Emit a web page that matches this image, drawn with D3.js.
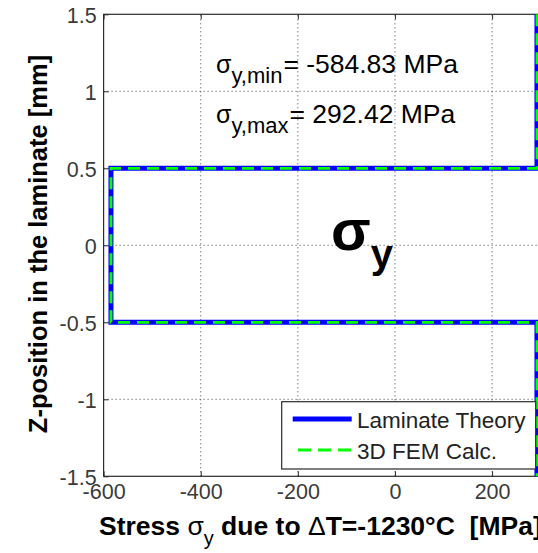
<!DOCTYPE html>
<html>
<head>
<meta charset="utf-8">
<script src="https://cdn.jsdelivr.net/npm/d3@7"></script>
<style>
  body { margin: 0; background: #fff; }
  svg { font-family: "Liberation Sans", Arial, sans-serif; display: block; }
</style>
</head>
<body>
<svg></svg>
<script>
const width = 538, height = 553;
const margin = {top: 14.3, left: 103.6};

// data: stress sigma_y through the laminate thickness
const sigmaMin = -584.83;
const sigmaMax = 292.42;
const zLaminate = [1.5, 0.5, 0.5, -0.5, -0.5, -1.5];
const sLaminate = [sigmaMax, sigmaMax, sigmaMin, sigmaMin, sigmaMax, sigmaMax];
const zFem = [1.5, 0.5, 0.5, -0.5, -0.5, -1.5];
const sFem = [sigmaMax, sigmaMax, sigmaMin, sigmaMin, sigmaMax, sigmaMax];
const xTicks = [-600, -400, -200, 0, 200];
const yTicks = [-1.5, -1, -0.5, 0, 0.5, 1, 1.5];

let svg = d3.select("svg").attr("width", width).attr("height", height);

let x = d3.scaleLinear().domain([-600, 300]).range([margin.left, margin.left + 900 * 0.4856]);
let y = d3.scaleLinear().domain([-1.5, 1.5]).range([476.3, margin.top]);

const x0 = x.range()[0], x1 = x.range()[1];
const y0 = y.range()[0], y1 = y.range()[1];
const fmt = d => String(d);  // plain hyphen minus like matlab

// grid
let grid = svg.append("g").attr("stroke", "#444").attr("stroke-width", 1).attr("stroke-dasharray", "1,3");
xTicks.filter(t => t > -600).forEach(t => {
  grid.append("line").attr("x1", x(t)).attr("x2", x(t)).attr("y1", y0).attr("y2", y1);
});
yTicks.filter(t => Math.abs(t) < 1.5).forEach(t => {
  grid.append("line").attr("x1", x0).attr("x2", x1).attr("y1", y(t)).attr("y2", y(t));
});

// axes box
svg.append("rect").attr("x", x0).attr("y", y1).attr("width", x1 - x0).attr("height", y0 - y1)
  .attr("fill", "none").attr("stroke", "#2b2b2b").attr("stroke-width", 1.2);

let xAxis = svg.append("g").attr("transform", `translate(0,${y0})`)
  .call(d3.axisBottom(x).tickValues(xTicks).tickSize(-5).tickPadding(12).tickFormat(fmt));
let xAxisTop = svg.append("g").attr("transform", `translate(0,${y1})`)
  .call(d3.axisTop(x).tickValues(xTicks).tickSize(-5).tickFormat(""));
let yAxis = svg.append("g").attr("transform", `translate(${x0},0)`)
  .call(d3.axisLeft(y).tickValues(yTicks).tickSize(-5).tickPadding(7).tickFormat(fmt));
[xAxis, xAxisTop, yAxis].forEach(a => {
  a.select(".domain").remove();
  a.selectAll("line").attr("stroke", "#2b2b2b");
  a.selectAll("text").attr("fill", "#3a3a3a").attr("font-size", 21.5).attr("font-family", "Liberation Sans, Arial");
});
xAxis.selectAll("text").attr("dy", "0.5em");
yAxis.selectAll("text").attr("dy", "0.36em");

// lines
let line = d3.line().x(d => x(d[0])).y(d => y(d[1]));
svg.append("path")
  .datum(sLaminate.map((s, i) => [s, zLaminate[i]]))
  .attr("d", line).attr("fill", "none").attr("stroke", "#0000ff").attr("stroke-width", 5);
svg.append("path")
  .datum(sFem.map((s, i) => [s, zFem[i]]))
  .attr("d", line).attr("fill", "none").attr("stroke", "#00ff00").attr("stroke-width", 2.8)
  .attr("stroke-dasharray", "12,7");

// annotations
let ann = svg.append("g").attr("fill", "#000").attr("font-size", 26.5);
let t1 = ann.append("text").attr("x", 216).attr("y", 73);
t1.append("tspan").attr("font-size", 25).text("σ");
t1.append("tspan").attr("font-size", 22).attr("dy", 10).text("y,min");
t1.append("tspan").attr("dy", -10).attr("dx", 1).text("= -584.83 MPa");
let t2 = ann.append("text").attr("x", 216).attr("y", 123);
t2.append("tspan").attr("font-size", 25).text("σ");
t2.append("tspan").attr("font-size", 22).attr("dy", 10).text("y,max");
t2.append("tspan").attr("dy", -10).attr("dx", 1).text("= 292.42 MPa");

let big = svg.append("text").attr("x", 331).attr("y", 250).attr("font-weight", "bold").attr("fill", "#000");
big.append("tspan").attr("font-size", 58).text("σ");
big.append("tspan").attr("font-size", 40).attr("dy", 18).text("y");

// legend
let leg = svg.append("g");
leg.append("rect").attr("x", 281.7).attr("y", 401.7).attr("width", 254).attr("height", 67.3)
  .attr("fill", "#fff").attr("stroke", "#2b2b2b").attr("stroke-width", 1.2);
leg.append("line").attr("x1", 292.7).attr("x2", 351.7).attr("y1", 419).attr("y2", 419)
  .attr("stroke", "#0000ff").attr("stroke-width", 5);
leg.append("line").attr("x1", 298).attr("x2", 351.7).attr("y1", 450).attr("y2", 450)
  .attr("stroke", "#00ff00").attr("stroke-width", 2.8).attr("stroke-dasharray", "13,7");
leg.append("text").attr("x", 357).attr("y", 428).attr("font-size", 22.5).attr("fill", "#222").text("Laminate Theory");
leg.append("text").attr("x", 357).attr("y", 458.5).attr("font-size", 22.5).attr("fill", "#222").text("3D FEM Calc.");

// axis labels
let xl = svg.append("text").attr("x", 99).attr("y", 535).attr("font-size", 26.5).attr("font-weight", "bold").attr("fill", "#000");
xl.append("tspan").text("Stress ");
xl.append("tspan").attr("font-weight", "normal").text("σ");
xl.append("tspan").attr("font-weight", "normal").attr("font-size", 20).attr("dy", 10).text("y");
xl.append("tspan").attr("dy", -10).text(" due to ");
xl.append("tspan").attr("font-weight", "normal").text("Δ");
xl.append("tspan").text("T=-1230°C\u00a0\u00a0[MPa]");

svg.append("text").attr("transform", "translate(47,244) rotate(-90)")
  .attr("text-anchor", "middle").attr("font-size", 25.5).attr("font-weight", "bold").attr("fill", "#000")
  .text("Z-position in the laminate [mm]");
</script>
</body>
</html>
